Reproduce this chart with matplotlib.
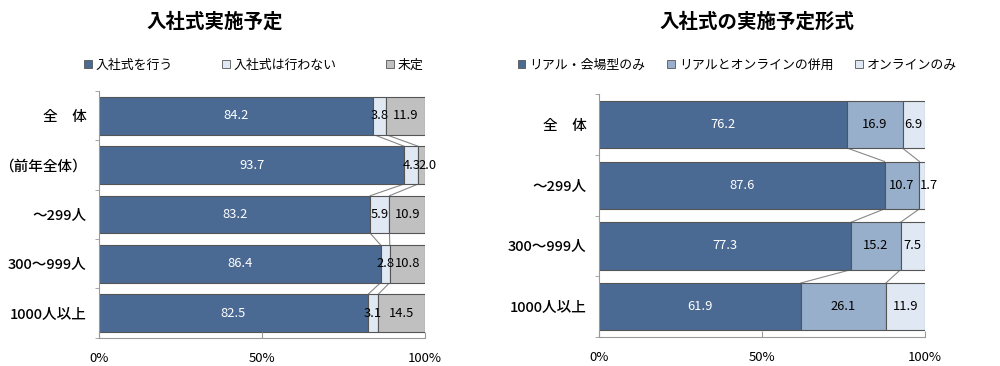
import numpy as np
import matplotlib.pyplot as plt
from matplotlib.patches import Patch

plt.rcParams['font.family'] = ['Noto Sans CJK JP', 'DejaVu Sans']

# left chart data
cats_l = ['全　体', '（前年全体）', '～299人', '300～999人', '1000人以上']
do_l = [84.2, 93.7, 83.2, 86.4, 82.5]
dont_l = [3.8, 4.3, 5.9, 2.8, 3.1]
undec_l = [11.9, 2.0, 10.9, 10.8, 14.5]
names_l = ['入社式を行う', '入社式は行わない', '未定']

# right chart data
cats_r = ['全　体', '～299人', '300～999人', '1000人以上']
real_r = [76.2, 87.6, 77.3, 61.9]
both_r = [16.9, 10.7, 15.2, 26.1]
online_r = [6.9, 1.7, 7.5, 11.9]
names_r = ['リアル・会場型のみ', 'リアルとオンラインの併用', 'オンラインのみ']

dark = '#4b6a93'
mid = '#98afcb'
light = '#dfe8f3'
gray = '#c0c0c0'
edge = '#555555'


def draw(ax, cats, series, colors, txtcolors, names, bh, legend_x, legend_y, colsp):
    y = np.arange(len(cats))
    left = np.zeros(len(cats))
    last = len(series) - 1
    for k, (vals, c, tc) in enumerate(zip(series, colors, txtcolors)):
        vals = np.array(vals)
        ax.barh(y, vals, left=left, height=bh, color=c, edgecolor=edge, linewidth=0.8)
        for yi, l, v in zip(y, left, vals):
            if k == last and v < 2.5:
                # tiny end segment: label starts at the segment
                ax.text(l, yi, f'{v:.1f}', ha='left', va='center',
                        color=tc, fontsize=9.3, clip_on=False)
            else:
                ax.text(l + v / 2, yi, f'{v:.1f}', ha='center', va='center',
                        color=tc, fontsize=9.3)
        left = left + vals
    # series lines between bars
    cum = np.cumsum(np.array(series), axis=0)
    for k in range(len(series) - 1):
        for i in range(len(cats) - 1):
            ax.plot([cum[k][i], cum[k][i + 1]], [i + bh / 2, i + 1 - bh / 2],
                    color='#888888', lw=0.8, zorder=0)
    ax.set_xlim(0, 100)
    ax.set_ylim(len(cats) - 0.5, -0.5)
    ax.set_yticks(y)
    ax.set_yticklabels(cats, fontsize=10.5, fontweight='medium')
    ax.set_yticks(np.arange(len(cats) + 1) - 0.5, minor=True)
    ax.tick_params(axis='y', which='major', length=0, pad=9)
    ax.tick_params(axis='y', which='minor', length=3, color='#999999')
    ax.set_xticks([0, 50, 100])
    ax.set_xticklabels(['0%', '50%', '100%'], fontsize=9.5)
    ax.tick_params(axis='x', direction='in', length=4, color='#999999', pad=10)
    for s in ['top', 'right']:
        ax.spines[s].set_visible(False)
    for s in ['left', 'bottom']:
        ax.spines[s].set_color('#999999')
    handles = [Patch(facecolor=c, edgecolor=edge, lw=0.6) for c in colors]
    ax.legend(handles, names, loc='center left', bbox_to_anchor=(legend_x, legend_y),
              ncol=3, frameon=False, fontsize=9.3, handlelength=0.6,
              handleheight=0.6, handletextpad=0.3, columnspacing=colsp,
              borderaxespad=0, borderpad=0)


fig = plt.figure(figsize=(10, 3.66), dpi=100)
ax1 = fig.add_axes([0.099, 0.077, 0.326, 0.674])
ax2 = fig.add_axes([0.599, 0.079, 0.326, 0.664])

draw(ax1, cats_l, [do_l, dont_l, undec_l], [dark, light, gray],
     ['white', 'black', 'black'], names_l, 0.76, -0.045, 1.105, 3.8)
draw(ax2, cats_r, [real_r, both_r, online_r], [dark, mid, light],
     ['white', 'black', 'black'], names_r, 0.78, -0.25, 1.12, 1.7)

fig.text(0.215, 0.94, '入社式実施予定', ha='center', va='center',
         fontsize=14, fontweight='bold')
fig.text(0.757, 0.94, '入社式の実施予定形式', ha='center', va='center',
         fontsize=14, fontweight='bold')

fig.savefig('out.png', dpi=100)
